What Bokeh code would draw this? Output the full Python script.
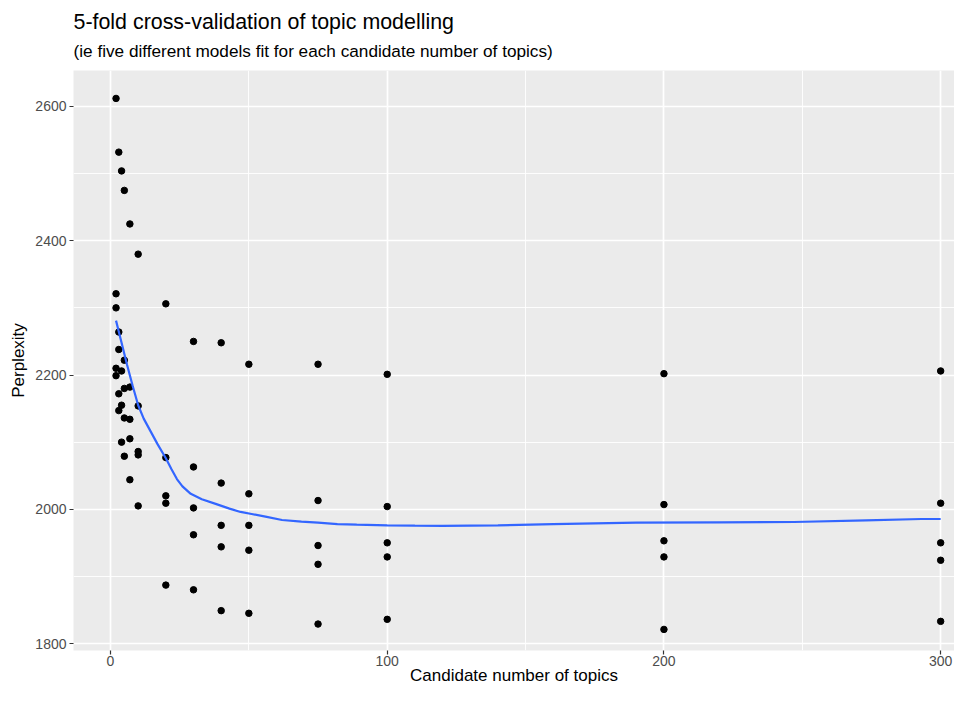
from bokeh.plotting import figure
from bokeh.models import Title, FixedTicker, Range1d
from bokeh.embed import file_html
from bokeh.resources import INLINE

# ---- data ----
topics = [2, 2, 2, 2, 2,
          3, 3, 3, 3, 3,
          4, 4, 4, 4,
          5, 5, 5, 5, 5,
          7, 7, 7, 7, 7,
          10, 10, 10, 10, 10,
          20, 20, 20, 20, 20,
          30, 30, 30, 30, 30,
          40, 40, 40, 40, 40,
          50, 50, 50, 50, 50,
          75, 75, 75, 75, 75,
          100, 100, 100, 100, 100,
          200, 200, 200, 200, 200,
          300, 300, 300, 300, 300]
perplexity = [2612, 2321, 2300, 2210, 2199,
              2532, 2264, 2238, 2172, 2147,
              2504, 2206, 2155, 2100,
              2475, 2222, 2180, 2136, 2079,
              2425, 2182, 2134, 2105, 2044,
              2380, 2154, 2086, 2081, 2005,
              2306, 2077, 2020, 2009, 1887,
              2250, 2063, 2002, 1962, 1880,
              2248, 2039, 1976, 1944, 1849,
              2216, 2023, 1976, 1939, 1845,
              2216, 2013, 1946, 1918, 1829,
              2201, 2004, 1950, 1929, 1836,
              2202, 2007, 1953, 1929, 1821,
              2206, 2009, 1950, 1924, 1833]

# loess smooth
smooth_x = [2, 4, 6, 8, 10, 12, 14.5, 17, 20, 22, 24, 26, 29, 33, 38, 43, 47,
            51, 56, 62, 69, 75, 82, 89, 100, 110, 120, 140, 160, 190, 220, 247,
            273, 293, 300]
smooth_y = [2281, 2248, 2215, 2184, 2155, 2135, 2116, 2097, 2076, 2060, 2045,
            2034, 2023, 2015, 2008, 2001, 1996, 1993, 1989, 1984, 1981.5, 1980,
            1978, 1977, 1976, 1975.5, 1975.3, 1976, 1978, 1980, 1980.5, 1981,
            1983.5, 1985.5, 1985.5]

x_ticks = [0, 100, 200, 300]
x_minor = [50, 150, 250]
y_ticks = [1800, 2000, 2200, 2400, 2600]
y_minor = [1900, 2100, 2300, 2500]

title_text = "5-fold cross-validation of topic modelling"
subtitle_text = "(ie five different models fit for each candidate number of topics)"
x_label = "Candidate number of topics"
y_label = "Perplexity"

FONT = "Liberation Sans"

p = figure(width=954, height=688,
           x_range=Range1d(-13.37, 305.0), y_range=Range1d(1789.6, 2653.6),
           output_backend="svg", toolbar_location=None,
           min_border_left=73, min_border_right=0, min_border_top=70,
           min_border_bottom=38)
p.background_fill_color = "#EBEBEB"
p.border_fill_color = "white"
p.outline_line_color = None

sub = Title(text=subtitle_text, text_font=FONT, text_font_size="17.2px",
            text_font_style="normal", text_color="black", align="left",
            offset=0, standoff=19)
p.add_layout(sub, "above")
main = Title(text=title_text, text_font=FONT, text_font_size="21.4px",
             text_font_style="normal", text_color="black", align="left",
             offset=0, standoff=-9)
p.add_layout(main, "above")

p.xaxis.ticker = FixedTicker(ticks=x_ticks, minor_ticks=x_minor)
p.yaxis.ticker = FixedTicker(ticks=y_ticks, minor_ticks=y_minor)

for ax in (p.xaxis, p.yaxis):
    ax.axis_line_color = None
    ax.major_tick_in = 0
    ax.major_tick_out = 4
    ax.major_tick_line_color = "#333333"
    ax.major_tick_line_width = 1.2
    ax.minor_tick_line_color = None
    ax.major_label_text_font = FONT
    ax.major_label_text_font_size = "14px"
    ax.major_label_text_color = "#4D4D4D"
    ax.axis_label_text_font = FONT
    ax.axis_label_text_font_size = "17px"
    ax.axis_label_text_font_style = "normal"
    ax.axis_label_text_color = "black"

p.xaxis.axis_label = x_label
p.yaxis.axis_label = y_label
p.xaxis.major_label_standoff = 1
p.xaxis.axis_label_standoff = -3
p.yaxis.major_label_standoff = 3
p.yaxis.axis_label_standoff = 4

for g in (p.xgrid, p.ygrid):
    g.grid_line_color = "white"
    g.grid_line_width = 1.7
    g.minor_grid_line_color = "white"
    g.minor_grid_line_width = 0.9

p.scatter(topics, perplexity, size=6.5, fill_color="black", line_color="black")
p.line(smooth_x, smooth_y, line_color="#3366FF", line_width=2.2)

open("out.html", "w").write(file_html(p, INLINE))
